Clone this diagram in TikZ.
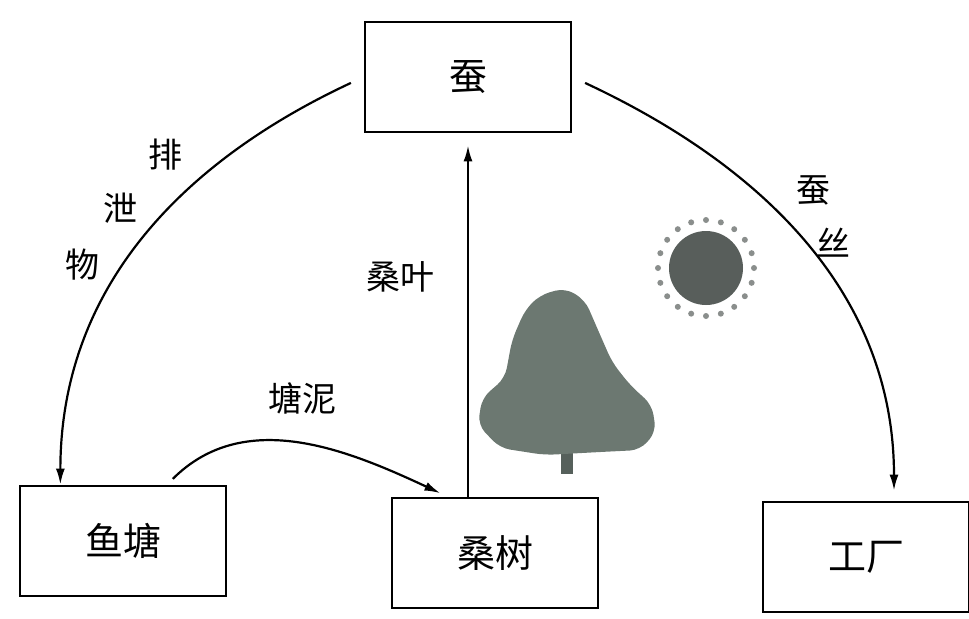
\documentclass[tikz,border=0pt]{standalone}
\usepackage{fontspec}
\setmainfont{Noto Sans CJK SC}
\usetikzlibrary{arrows.meta}
\definecolor{leafgray}{RGB}{108,120,113}
\definecolor{sungray}{RGB}{88,94,91}
\begin{document}
\begin{tikzpicture}[x=0.5pt,y=-0.5pt,>={Latex[length=8pt,width=4.5pt]},
    station/.style ={draw, line width=1.4pt, minimum width=103pt, minimum height=55pt,
                     font=\fontsize{19}{22}\selectfont},
    flow/.style ={->, line width=1.1pt},
    tag/.style ={font=\fontsize{17}{20}\selectfont}]
   \useasboundingbox (0,0) rectangle (969,618);
   \node[station] (can) at (468,77)  {蚕};
   \node[station] (pond) at (123,541)  {鱼塘};
   \node[station] (mulberry) at (495,553)  {桑树};
   \node[station] (factory) at (866,557)  {工厂};
   % tree and sun
   \fill[leafgray!80!black] (561,474) rectangle (573,440);
   \fill[leafgray, rounded corners=5pt]
      (540,295) -- (565,288) -- (585,300) -- (598,330) -- (612,362) -- (630,385)
      -- (652,405) -- (656,432) -- (640,450) -- (600,452) -- (545,455) -- (500,448)
      -- (478,425) -- (482,398) -- (505,378) -- (512,340) -- (525,310) -- cycle;
   \fill[sungray] (706,268) circle (37);
   \foreach \a in {0,18,...,342}
      \fill[sungray!70] (706,268) ++(\a:48) circle (3);
   % flows
   \draw[flow] (can.west) [shorten <=7pt] to[out=205,in=90] (pond.138);
   \draw[flow] (can.east) [shorten <=7pt] to[out=-25,in=90] ([xshift=14pt]factory.north) [shorten >=5pt];
   \draw[flow] (mulberry.north -| can.south) -- (can.south) [shorten >=6pt];
   \draw[flow] (pond.52) [shorten <=4pt] to[out=45,in=155] (mulberry.130) [shorten >=4pt];
   % labels
   \node[tag] (l1) at (165,155) {排};
   \node[tag] (l2) at (120,208) {泄};
   \node[tag] (l3) at (82,265) {物};
   \node[tag] (l4) at (813,190) {蚕};
   \node[tag] (l5) at (833,243) {丝};
   \node[tag] (l6) at (400,277) {桑叶};
   \node[tag] (l7) at (302,398) {塘泥};
 \end{tikzpicture}
\end{document}
